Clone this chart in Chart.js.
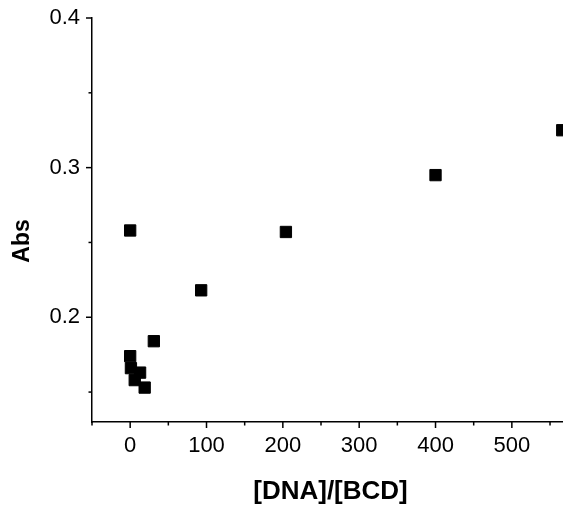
<!DOCTYPE html>
<html>
<head>
<meta charset="utf-8">
<script src="https://cdn.jsdelivr.net/npm/chart.js@4/dist/chart.umd.min.js"></script>
<style>
  html, body { margin: 0; padding: 0; background: #fff; }
  #wrap { width: 563px; height: 509px; }
</style>
</head>
<body>
<div id="wrap"><canvas id="c" width="563" height="509"></canvas></div>
<script>
const ratioValues = [0, 0, 1, 13, 6, 19, 31, 93, 204, 400, 566];
const absValues = [0.258, 0.174, 0.166, 0.163, 0.158, 0.153, 0.184, 0.218, 0.257, 0.295, 0.325];
const xTickLabels = [0, 100, 200, 300, 400, 500];
const yTickLabels = [0.2, 0.3, 0.4];
const xTitle = '[DNA]/[BCD]';
const yTitle = 'Abs';

const FONT = 'Liberation Sans, Arial, Helvetica, sans-serif';

function isLabeled(list, v) {
  return list.some(t => Math.abs(t - v) < 1e-6);
}

const tickPlugin = {
  id: 'customTicks',
  afterDraw(chart) {
    const ctx = chart.ctx;
    const xs = chart.scales.x, ys = chart.scales.y;
    ctx.save();
    ctx.strokeStyle = '#000';
    ctx.lineWidth = 1.5;
    xs.ticks.forEach(t => {
      const px = xs.getPixelForValue(t.value);
      const len = isLabeled(xTickLabels, t.value) ? 6 : 3.5;
      ctx.beginPath();
      ctx.moveTo(px, xs.top);
      ctx.lineTo(px, xs.top + len);
      ctx.stroke();
    });
    ys.ticks.forEach(t => {
      const py = ys.getPixelForValue(t.value);
      const len = isLabeled(yTickLabels, t.value) ? 6 : 3.5;
      ctx.beginPath();
      ctx.moveTo(ys.right, py);
      ctx.lineTo(ys.right - len, py);
      ctx.stroke();
    });
    // axis titles
    ctx.fillStyle = '#000';
    ctx.textAlign = 'center';
    ctx.textBaseline = 'middle';
    const ca = chart.chartArea;
    ctx.font = 'bold 26px ' + FONT;
    ctx.fillText(xTitle, (ca.left + ca.right) / 2 + 3, ca.bottom + 70);
    ctx.font = 'bold 23px ' + FONT;
    ctx.save();
    ctx.translate(ys.left + 22.5, (ca.top + ca.bottom) / 2 + 21);
    ctx.rotate(-Math.PI / 2);
    ctx.fillText(yTitle, 0, 0);
    ctx.restore();
    ctx.restore();
  }
};

new Chart(document.getElementById('c'), {
  type: 'scatter',
  data: {
    datasets: [{
      data: ratioValues.map((x, i) => ({ x: x, y: absValues[i] })),
      pointStyle: 'rect',
      pointRadius: 8,
      pointHoverRadius: 8,
      backgroundColor: '#000',
      borderColor: '#000',
      borderWidth: 1,
      clip: false
    }]
  },
  options: {
    responsive: false,
    animation: false,
    devicePixelRatio: 1,
    layout: { autoPadding: false, padding: { top: 18, right: 0, left: 0, bottom: 0 } },
    plugins: { legend: { display: false }, tooltip: { enabled: false } },
    scales: {
      x: {
        type: 'linear',
        min: -50,
        max: 567,
        afterFit(scale) {
          scale.height = 87;
          scale.paddingLeft = 0; scale.paddingRight = 0;
          scale.paddingTop = 0; scale.paddingBottom = 0;
        },
        grid: { display: true, drawOnChartArea: false, drawTicks: false },
        border: { display: true, color: '#000', width: 1.5 },
        ticks: {
          stepSize: 50,
          includeBounds: false,
          autoSkip: false,
          maxRotation: 0,
          padding: 11,
          color: '#000',
          font: { family: FONT, size: 22 },
          callback: v => isLabeled(xTickLabels, v) ? String(Math.round(v)) : ''
        }
      },
      y: {
        type: 'linear',
        min: 0.13,
        max: 0.4,
        afterFit(scale) {
          scale.width = 92;
          scale.paddingLeft = 0; scale.paddingRight = 0;
          scale.paddingTop = 0; scale.paddingBottom = 0;
        },
        grid: { display: true, drawOnChartArea: false, drawTicks: false },
        border: { display: true, color: '#000', width: 1.5 },
        ticks: {
          stepSize: 0.05,
          includeBounds: false,
          autoSkip: false,
          padding: 12,
          color: '#000',
          font: { family: FONT, size: 22 },
          callback: v => isLabeled(yTickLabels, v) ? v.toFixed(1) : ''
        }
      }
    }
  },
  plugins: [tickPlugin]
});
</script>
</body>
</html>
